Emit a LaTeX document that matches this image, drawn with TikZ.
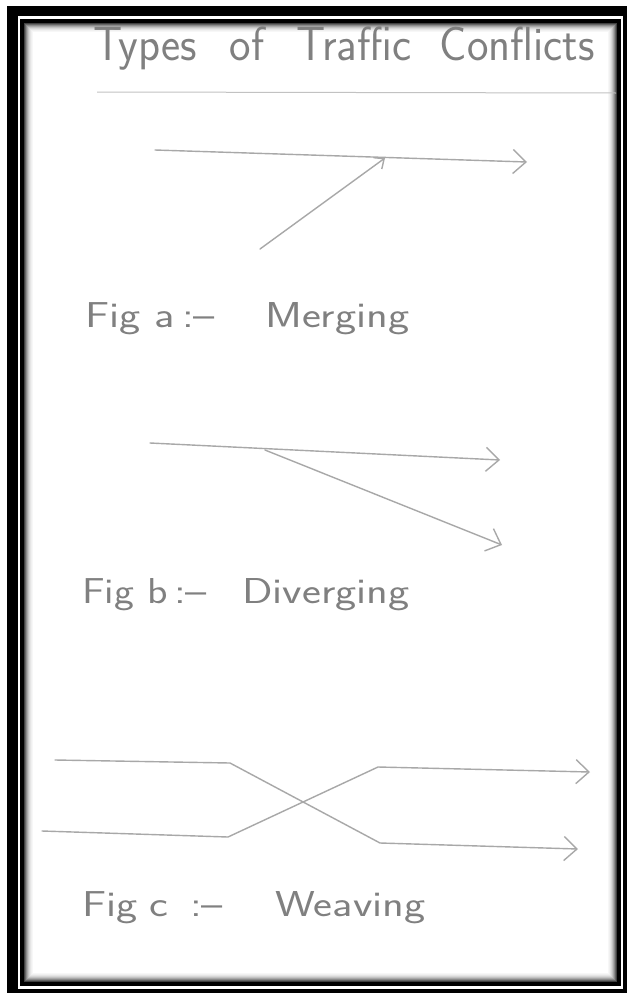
\documentclass[tikz,border=0pt]{standalone}
\usetikzlibrary{arrows.meta}
\definecolor{pencil}{RGB}{128,128,128}
\definecolor{stroke}{RGB}{168,168,168}
\begin{document}
\begin{tikzpicture}[x=1pt,y=-1pt,
  hand/.style={font=\sffamily\fontsize{36}{38}\selectfont, text=pencil, inner sep=0pt, anchor=base west, xscale=1.25},
  road/.style={draw=stroke, line width=1.4pt, line cap=round, line join=round},
  head/.style={road, -{Straight Barb[length=13pt,width=24pt,line width=1.4pt]}},
  smallhead/.style={road, -{Straight Barb[length=8pt,width=14pt,line width=1.4pt]}}]
\useasboundingbox (0,0) rectangle (628,993);
% frame
\fill[black] (7,6) rectangle (627,993);
\fill[white] (18,16) rectangle (623,989);
\fill[black] (20,19) rectangle (621,986);
\fill[white] (24,23) rectangle (617,982);
\foreach \i/\c in {0.5/75,1.5/60,2.5/46,3.5/34,4.5/24,5.5/16,6.5/10,7.5/6,8.5/3}
  \draw[black!\c, line width=1pt] ({24+\i},{23+\i}) rectangle ({617-\i},{982-\i});
% title
\node[hand, font=\sffamily\fontsize{48}{50}\selectfont, xscale=0.95/1.25] (title) at (93,60)
  {Types\hspace{34pt}of\hspace{34pt}Traffic\hspace{30pt}Conflicts};
\coordinate (ulA) at (97,92);
\coordinate (ulB) at (616,93);
\draw[draw=stroke!70, line width=1pt] (ulA) -- (ulB);
% Fig a : merging
\coordinate (a1) at (155,150);
\coordinate (a2) at (527,162);
\coordinate (a3) at (260,249);
\coordinate (a4) at (385,158);
\draw[head] (a1) -- (a2);
\draw[smallhead] (a3) -- (a4);
\node[hand] (la1) at (85,327) {Fig a};
\node[hand] (la2) at (182,327) {:--};
\node[hand] (la3) at (265,327) {Merging};
% Fig b : diverging
\coordinate (b1) at (150,443);
\coordinate (b2) at (500,460);
\coordinate (b3) at (265,450);
\coordinate (b4) at (502,545);
\draw[head] (b1) -- (b2);
\draw[head] (b3) -- (b4);
\node[hand, xscale=0.94] (lb1) at (82,603) {Fig b};
\node[hand] (lb2) at (174,603) {:--};
\node[hand] (lb3) at (242,603) {Diverging};
% Fig c : weaving
\coordinate (c1) at (55,760);
\coordinate (c2) at (230,763);
\coordinate (c3) at (380,843);
\coordinate (c4) at (578,849);
\coordinate (d1) at (42,831);
\coordinate (d2) at (228,837);
\coordinate (d3) at (378,767);
\coordinate (d4) at (590,772);
\draw[head] (c1) -- (c2) -- (c3) -- (c4);
\draw[head] (d1) -- (d2) -- (d3) -- (d4);
\node[hand] (lc1) at (82,916) {Fig\hspace{10pt}c};
\node[hand] (lc2) at (190,916) {:--};
\node[hand] (lc3) at (275,916) {Weaving};
\end{tikzpicture}
\end{document}
